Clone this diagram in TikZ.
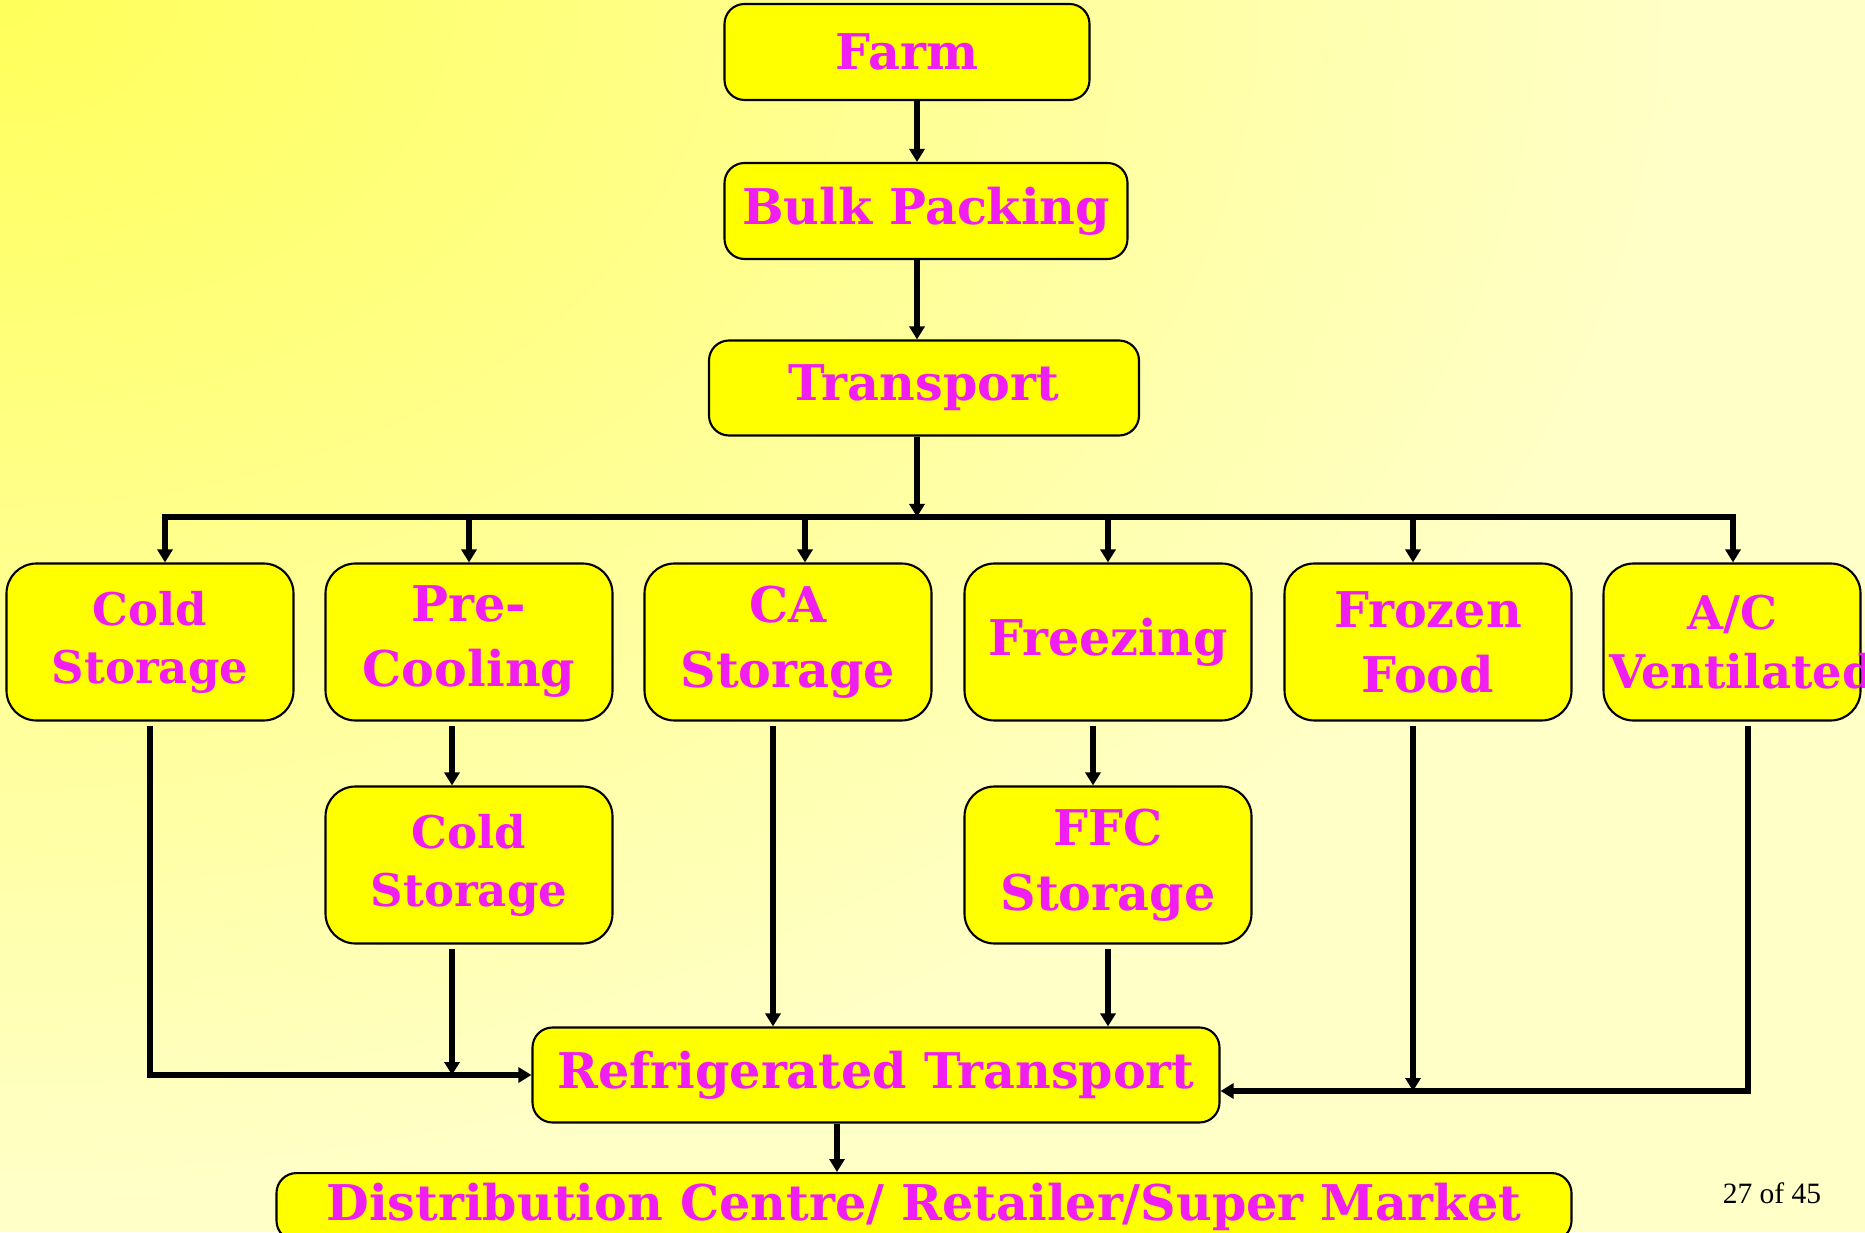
\documentclass[tikz,border=0pt]{standalone}
\usepackage{fontspec}
\usetikzlibrary{arrows.meta}

\newfontfamily\boxfam{DejaVu Serif}
\newfontfamily\pagefam{Liberation Serif}
\definecolor{bgdeep}{RGB}{255,255,90}
\definecolor{bgpale}{RGB}{255,255,200}
\definecolor{boxyellow}{RGB}{255,255,0}
\definecolor{boxmagenta}{RGB}{240,30,240}
\newcommand{\boxfont}{\boxfam\bfseries\fontsize{14}{18.5}\selectfont}
\newcommand{\smallboxfont}{\boxfam\bfseries\fontsize{12.8}{16.5}\selectfont}
\newcommand{\narrowboxfont}{\boxfam\bfseries\fontsize{13.2}{17}\selectfont}
\newcommand{\pagefont}{\pagefam\fontsize{8.4}{10}\selectfont}

\begin{document}
\begin{tikzpicture}[box/.style = {draw=black, line width=0.6pt, fill=boxyellow, rounded corners=#1, text=boxmagenta, font=\boxfont, align=center, inner sep=0.06cm}, box/.default = 0.2cm, link/.style = {line width=1.6pt, -{Triangle[width=0.15cm,length=0.13cm]}}]

\useasboundingbox (0,0) rectangle (18.65,12.32);

% Background
\begin{scope}
\clip (0,0) rectangle (18.65,12.32);
\fill[bgpale] (0,0) rectangle (18.65,12.32);
\shade[inner color=bgdeep, outer color=bgpale] (-17,0.32) rectangle (17,24.32);
\end{scope}

% Top chain
\node[box, minimum width=3.65cm, minimum height=0.96cm] (farm) at (9.07,11.80) {Farm};
\node[box, minimum width=4.03cm, minimum height=0.96cm] (bulk) at (9.26,10.21) {Bulk Packing};
\node[box, minimum width=4.30cm, minimum height=0.95cm] (trans) at (9.24,8.44) {Transport};

% First row
\node[box=0.3cm, font=\smallboxfont, text width=2.75cm, minimum height=1.57cm] (cs1) at (1.50,5.90) {Cold\\Storage};
\node[box=0.3cm, text width=2.75cm, minimum height=1.57cm] (pre) at (4.69,5.90) {Pre-\\Cooling};
\node[box=0.3cm, text width=2.75cm, minimum height=1.57cm] (ca) at (7.88,5.90) {CA\\Storage};
\node[box=0.3cm, text width=2.75cm, minimum height=1.57cm] (frz) at (11.08,5.90) {Freezing};
\node[box=0.3cm, text width=2.75cm, minimum height=1.57cm] (ff) at (14.28,5.90) {Frozen\\Food};
\node[box=0.3cm, font=\narrowboxfont, text width=2.45cm, minimum height=1.57cm] (ac) at (17.32,5.90) {A/C\\Ventilated};

% Second row
\node[box=0.3cm, font=\smallboxfont, text width=2.75cm, minimum height=1.57cm] (cs2) at (4.69,3.67) {Cold\\Storage};
\node[box=0.3cm, text width=2.75cm, minimum height=1.57cm] (ffc) at (11.08,3.67) {FFC\\Storage};

% Bottom
\node[box, minimum width=6.87cm, minimum height=0.95cm] (rt) at (8.76,1.57) {Refrigerated Transport};
\node[box, anchor=north, minimum width=12.95cm, inner ysep=0.1cm] (dist) at (9.24,0.60) {Distribution Centre/ Retailer/Super Market};

\node[font=\pagefont, inner sep=0pt] (page) at (17.72,0.39) {27 of 45};

% Top arrows
\draw[link] ([xshift=0.10cm]farm.south) -- ([xshift=0.10cm]farm.south |- bulk.north);
\draw[link] ([xshift=-0.09cm]bulk.south) -- ([xshift=-0.09cm]bulk.south |- trans.north);

% Bus
\coordinate (bus) at (9.17,7.15);
\draw[link] ([xshift=-0.07cm]trans.south) -- (bus);
\draw[link] (bus) -| ([xshift=0.15cm]cs1.north);
\draw[link] (bus) -| ([xshift=0.01cm]ac.north);
\draw[link] (bus -| pre.north) -- (pre.north);
\draw[link] (bus -| ca.north) ++(0.17,0) -- ([xshift=0.17cm]ca.north);
\draw[link] (bus -| frz.north) -- (frz.north);
\draw[link] (bus -| ff.north) ++(-0.15,0) -- ([xshift=-0.15cm]ff.north);

% Down to second row
\draw[link] ([xshift=-0.17cm,yshift=-0.04cm]pre.south) -- ([xshift=-0.17cm]cs2.north);
\draw[link] ([xshift=-0.15cm,yshift=-0.04cm]frz.south) -- ([xshift=-0.15cm]ffc.north);

% Into refrigerated transport
\coordinate (rtin) at ([yshift=-0.16cm]rt.east);
\draw[link] ([yshift=-0.04cm]cs1.south) |- (rt.west);
\draw[link] ([xshift=-0.17cm,yshift=-0.04cm]cs2.south) -- ([xshift=-0.17cm]cs2.south |- rt.west);
\draw[link] ([xshift=-0.15cm,yshift=-0.04cm]ca.south) -- ([xshift=-0.15cm]ca.south |- rt.north);
\draw[link] ([yshift=-0.04cm]ffc.south) -- (ffc.south |- rt.north);
\draw[link] ([xshift=-0.15cm,yshift=-0.04cm]ff.south) -- ([xshift=-0.15cm]ff.south |- rtin);
\draw[link] ([xshift=0.16cm,yshift=-0.04cm]ac.south) |- (rtin);

% Out
\draw[link] ([xshift=-0.39cm]rt.south) -- ([xshift=-0.39cm]rt.south |- dist.north);

\end{tikzpicture}
\end{document}
